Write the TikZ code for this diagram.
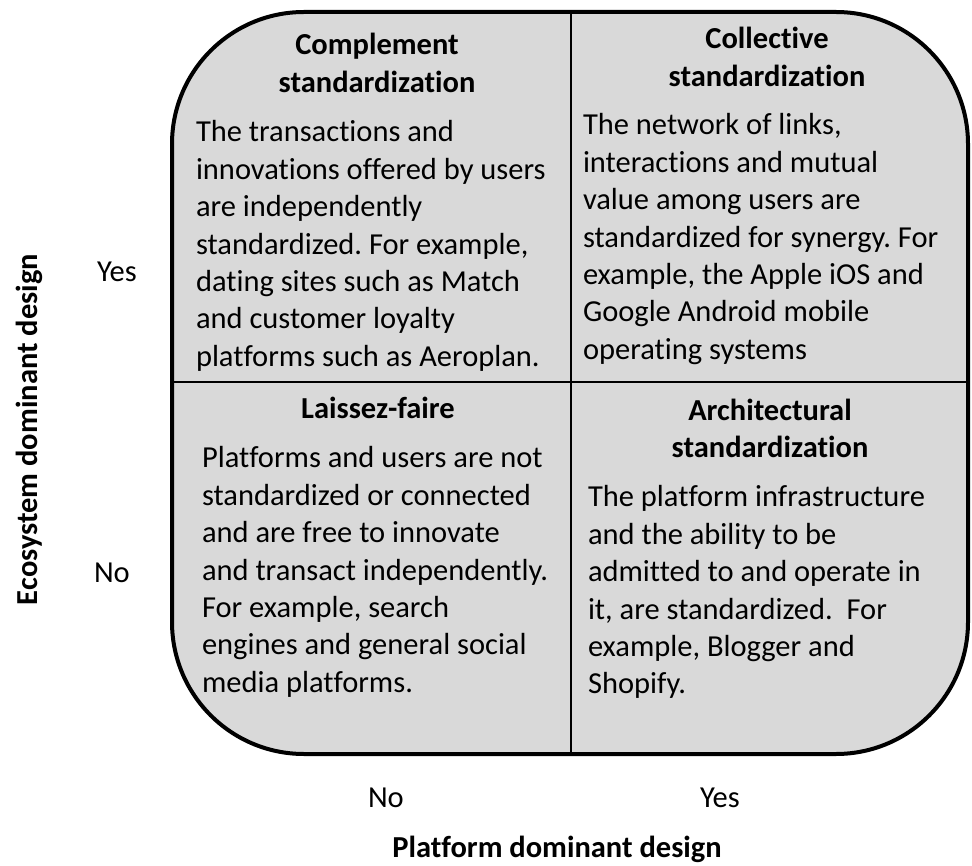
\documentclass[tikz,border=0pt]{standalone}
\usepackage{fontspec}
\setmainfont{Carlito}[Ligatures=NoCommon]
\definecolor{cellgray}{HTML}{D9D9D9}
\frenchspacing
\begin{document}
\frenchspacing
\begin{tikzpicture}[x=1pt,y=-1pt,
  every node/.style={inner sep=0pt, outer sep=0pt, font=\fontsize{30.5}{37.4}\selectfont},
  title/.style={anchor=north, align=center, font=\fontsize{30.5}{37.6}\selectfont\bfseries},
  body/.style={anchor=north west, align=left},
  axislabel/.style={anchor=base west},
  axistitle/.style={font=\fontsize{30.5}{37.4}\selectfont\bfseries},
  divider/.style={line width=2.6pt}]
\useasboundingbox (0,0) rectangle (972,866);
% box and dividers
\coordinate (tl) at (172,12);
\coordinate (br) at (968,754);
\coordinate (vtop) at (571,12);
\coordinate (vbot) at (571,754);
\coordinate (hl) at (172,382);
\coordinate (hr) at (968,382);
\fill[cellgray, rounded corners=132pt] (tl) rectangle (br);
\draw[divider] (vtop) -- (vbot);
\draw[divider] (hl) -- (hr);
\draw[line width=4pt, rounded corners=132pt] (tl) rectangle (br);
% titles
\node[title] (t1) at (377,28.6) {\strut Complement\\standardization};
\node[title] (t2) at (767,22.2) {\strut Collective\\standardization};
\node[title] (t3) at (378,391.8) {\strut Laissez-faire};
\node[title] (t4) at (770,393.8) {\strut Architectural\\standardization};
% bodies
\node[body] (b1) at (196,115.8) {\strut The transactions and\\innovations offered by users\\are independently\\standardized. For example,\\dating sites such as Match\\and customer loyalty\\platforms such as Aeroplan.};
\node[body] (b2) at (583,108.8) {\strut The network of links,\\interactions and mutual\\value among users are\\standardized for synergy. For\\example, the Apple iOS and\\Google Android mobile\\operating systems};
\node[body] (b3) at (202,441.8) {\strut Platforms and users are not\\standardized or connected\\and are free to innovate\\and transact independently.\\For example, search\\engines and general social\\media platforms.};
\node[body] (b4) at (588,480.8) {\strut The platform infrastructure\\and the ability to be\\admitted to and operate in\\it, are standardized.\ \ For\\example, Blogger and\\Shopify.};
% axis labels
\node[axislabel] (ly) at (97,282) {Yes};
\node[axislabel] (ln) at (94,582) {No};
\node[axislabel] (bn) at (368,807) {No};
\node[axislabel] (by) at (700,807) {Yes};
\node[axistitle, anchor=base] (px) at (557,857) {Platform dominant design};
\node[axistitle, anchor=base west, rotate=90] (ey) at (37,605) {Ecosystem dominant design};
\end{tikzpicture}
\end{document}
